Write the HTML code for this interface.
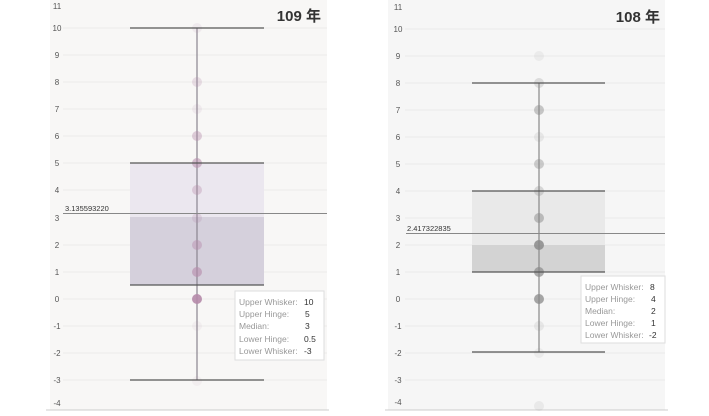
<!DOCTYPE html>
<html><head><meta charset="utf-8"><style>
body{margin:0;background:#fff;width:709px;height:411px;overflow:hidden}
svg{font-family:"Liberation Sans","Noto Sans CJK TC",sans-serif}
</style></head><body>
<svg width="709" height="411" viewBox="0 0 709 411">
<!-- LEFT -->
<rect x="50" y="0" width="277" height="410" fill="#f8f7f6"/>
<g stroke="#ecebea" stroke-width="1">
<line x1="63" y1="28" x2="327" y2="28"/><line x1="63" y1="55" x2="327" y2="55"/><line x1="63" y1="82" x2="327" y2="82"/><line x1="63" y1="109" x2="327" y2="109"/><line x1="63" y1="136" x2="327" y2="136"/><line x1="63" y1="163" x2="327" y2="163"/><line x1="63" y1="190" x2="327" y2="190"/><line x1="63" y1="245" x2="327" y2="245"/><line x1="63" y1="272" x2="327" y2="272"/><line x1="63" y1="299" x2="327" y2="299"/><line x1="63" y1="326" x2="327" y2="326"/><line x1="63" y1="353" x2="327" y2="353"/><line x1="63" y1="380" x2="327" y2="380"/>
</g>
<line x1="46" y1="410" x2="329" y2="410" stroke="#ccc"/>
<g font-size="8" fill="#555" text-anchor="middle">
<text x="57" y="9">11</text><text x="57" y="31">10</text><text x="57" y="58">9</text><text x="57" y="85">8</text><text x="57" y="112">7</text><text x="57" y="139">6</text><text x="57" y="166">5</text><text x="57" y="193">4</text><text x="57" y="221">3</text><text x="57" y="248">2</text><text x="57" y="275">1</text><text x="57" y="302">0</text><text x="57" y="329">-1</text><text x="57" y="356">-2</text><text x="57" y="383">-3</text><text x="57" y="406">-4</text>
</g>
<rect x="130" y="163" width="134" height="54" fill="#ebe7ef"/>
<rect x="130" y="217" width="134" height="68" fill="#d5d0dc"/>
<line x1="197" y1="28" x2="197" y2="380" stroke="#8a8590" stroke-width="1.2"/>
<g fill="#b58aaa">
<circle cx="197" cy="28" r="5" opacity=".12"/><circle cx="197" cy="82" r="5" opacity=".25"/><circle cx="197" cy="109" r="5" opacity=".12"/><circle cx="197" cy="136" r="5" opacity=".4"/><circle cx="197" cy="163" r="5" opacity=".55"/><circle cx="197" cy="190" r="5" opacity=".35"/><circle cx="197" cy="218" r="5" opacity=".25"/><circle cx="197" cy="245" r="5" opacity=".45"/><circle cx="197" cy="272" r="5" opacity=".6"/><circle cx="197" cy="299" r="5" opacity=".9"/><circle cx="197" cy="326" r="5" opacity=".08"/><circle cx="197" cy="381" r="5" opacity=".08"/>
</g>
<g stroke="#555" stroke-width="1.3">
<line x1="130" y1="28" x2="264" y2="28"/><line x1="130" y1="163" x2="264" y2="163"/><line x1="130" y1="285" x2="264" y2="285"/><line x1="130" y1="380" x2="264" y2="380"/>
</g>
<line x1="63" y1="213.5" x2="327" y2="213.5" stroke="#888"/>
<text x="65" y="211" font-size="7.5" fill="#333">3.135593220</text>
<text x="321" y="21" font-size="15" font-weight="bold" fill="#333" text-anchor="end">109 年</text>
<rect x="235" y="291" width="89" height="69" fill="#fff" stroke="#ddd"/>
<g font-size="8.5" fill="#999"><text x="239" y="305">Upper Whisker:</text><text x="239" y="317">Upper Hinge:</text><text x="239" y="329">Median:</text><text x="239" y="342">Lower Hinge:</text><text x="239" y="354">Lower Whisker:</text></g>
<g font-size="8.5" fill="#333"><text x="304" y="305">10</text><text x="305" y="317">5</text><text x="305" y="329">3</text><text x="304" y="342">0.5</text><text x="304" y="354">-3</text></g>

<!-- RIGHT -->
<rect x="388" y="0" width="277" height="410" fill="#f6f6f6"/>
<g stroke="#ebebeb" stroke-width="1">
<line x1="405" y1="29" x2="665" y2="29"/><line x1="405" y1="56" x2="665" y2="56"/><line x1="405" y1="83" x2="665" y2="83"/><line x1="405" y1="110" x2="665" y2="110"/><line x1="405" y1="137" x2="665" y2="137"/><line x1="405" y1="164" x2="665" y2="164"/><line x1="405" y1="191" x2="665" y2="191"/><line x1="405" y1="218" x2="665" y2="218"/><line x1="405" y1="245" x2="665" y2="245"/><line x1="405" y1="272" x2="665" y2="272"/><line x1="405" y1="299" x2="665" y2="299"/><line x1="405" y1="326" x2="665" y2="326"/><line x1="405" y1="353" x2="665" y2="353"/><line x1="405" y1="380" x2="665" y2="380"/>
</g>
<line x1="385" y1="410" x2="668" y2="410" stroke="#ccc"/>
<g font-size="8" fill="#555" text-anchor="middle">
<text x="398" y="10">11</text><text x="398" y="32">10</text><text x="398" y="59">9</text><text x="398" y="86">8</text><text x="398" y="113">7</text><text x="398" y="140">6</text><text x="398" y="167">5</text><text x="398" y="194">4</text><text x="398" y="221">3</text><text x="398" y="248">2</text><text x="398" y="275">1</text><text x="398" y="302">0</text><text x="398" y="329">-1</text><text x="398" y="356">-2</text><text x="398" y="383">-3</text><text x="398" y="405">-4</text>
</g>
<rect x="472" y="191" width="133" height="54" fill="#e9e9e9"/>
<rect x="472" y="245" width="133" height="27" fill="#d3d3d3"/>
<line x1="539" y1="83" x2="539" y2="352" stroke="#888" stroke-width="1.2"/>
<g fill="#8a8a8a">
<circle cx="539" cy="56" r="5" opacity=".1"/><circle cx="539" cy="83" r="5" opacity=".25"/><circle cx="539" cy="110" r="5" opacity=".45"/><circle cx="539" cy="137" r="5" opacity=".15"/><circle cx="539" cy="164" r="5" opacity=".4"/><circle cx="539" cy="191" r="5" opacity=".3"/><circle cx="539" cy="218" r="5" opacity=".5"/><circle cx="539" cy="245" r="5" opacity=".85"/><circle cx="539" cy="272" r="5" opacity=".7"/><circle cx="539" cy="299" r="5" opacity=".75"/><circle cx="539" cy="326" r="5" opacity=".15"/><circle cx="539" cy="353" r="5" opacity=".1"/><circle cx="539" cy="406" r="5" opacity=".12"/>
</g>
<g stroke="#555" stroke-width="1.3">
<line x1="472" y1="83" x2="605" y2="83"/><line x1="472" y1="191" x2="605" y2="191"/><line x1="472" y1="272" x2="605" y2="272"/><line x1="472" y1="352" x2="605" y2="352"/>
</g>
<line x1="406" y1="233.5" x2="665" y2="233.5" stroke="#888"/>
<text x="407" y="231" font-size="7.5" fill="#333">2.417322835</text>
<text x="660" y="22" font-size="15" font-weight="bold" fill="#333" text-anchor="end">108 年</text>
<rect x="581" y="276" width="84" height="67" fill="#fff" stroke="#ddd"/>
<g font-size="8.5" fill="#999"><text x="585" y="290">Upper Whisker:</text><text x="585" y="302">Upper Hinge:</text><text x="585" y="314">Median:</text><text x="585" y="326">Lower Hinge:</text><text x="585" y="338">Lower Whisker:</text></g>
<g font-size="8.5" fill="#333"><text x="650" y="290">8</text><text x="651" y="302">4</text><text x="651" y="314">2</text><text x="651" y="326">1</text><text x="649" y="338">-2</text></g>
</svg>
</body></html>
